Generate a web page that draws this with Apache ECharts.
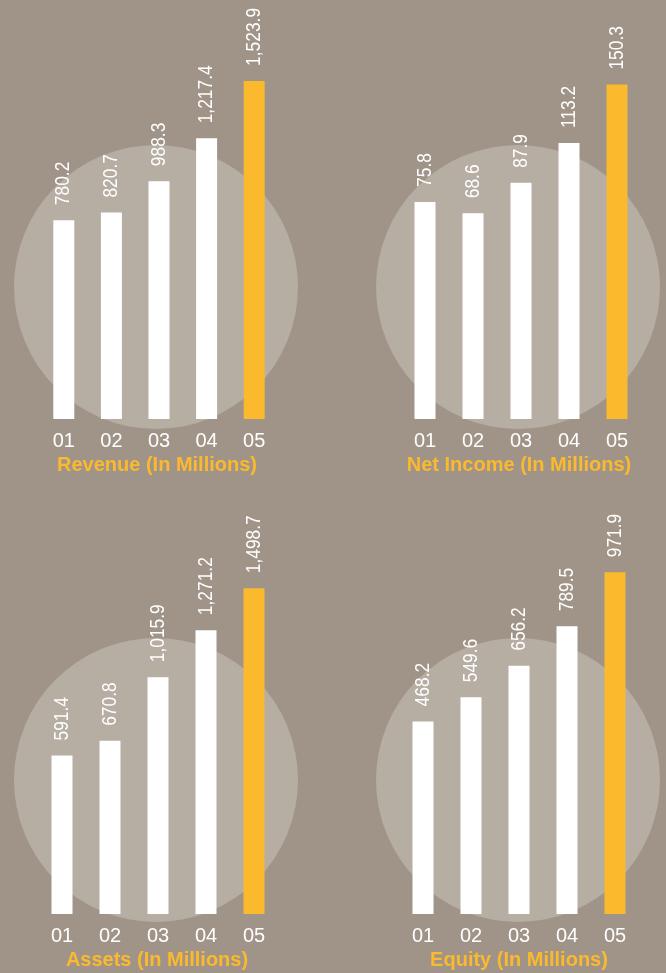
<!DOCTYPE html>
<html><head><meta charset="utf-8">
<script src="https://cdn.jsdelivr.net/npm/echarts@6/dist/echarts.min.js"></script>
<style>html,body{margin:0;padding:0;background:#a09488;}#c{width:666px;height:973px;}</style>
</head><body><div id="c"></div>
<script>
const categories = ['01', '02', '03', '04', '05'];
const revenue = [780.2, 820.7, 988.3, 1217.4, 1523.9];
const netIncome = [75.8, 68.6, 87.9, 113.2, 150.3];
const assets = [591.4, 670.8, 1015.9, 1271.2, 1498.7];
const equity = [468.2, 549.6, 656.2, 789.5, 971.9];
const titles = ['Revenue (In Millions)', 'Net Income (In Millions)', 'Assets (In Millions)', 'Equity (In Millions)'];
const seriesData = [revenue, netIncome, assets, equity];
const axisMin = [-282, -62, -268.6, -182.5];
const axisMax = [1742.6, 178.6, 1787.8, 1097.9];

const BG = '#a09488', CIRCLE = '#b6ada3', YELLOW = '#fbb92e', WHITE = '#ffffff';
const FONT = "'Liberation Sans', Arial, sans-serif";

const grids = [
  {left: 40, top: 40, width: 238, height: 379},
  {left: 401, top: 40, width: 240, height: 379},
  {left: 38, top: 535, width: 240, height: 379},
  {left: 399, top: 535, width: 240, height: 379}
];
const circles = [[156, 287], [518, 287], [156, 780], [518, 780]];
const titlePos = [[157, 455], [519, 455], [157, 950], [519, 950]];

function fmt(v) {
  return v.toLocaleString('en-US', {minimumFractionDigits: 1, maximumFractionDigits: 1});
}

function makeRender(i) {
  return function (params, api) {
    const x = api.value(0), v = api.value(1);
    const top = api.coord([x, v]);
    const base = api.coord([x, axisMin[i]]);
    const w = 21;
    const last = params.dataIndex === seriesData[i].length - 1;
    return {
      type: 'group',
      children: [
        {type: 'rect', shape: {x: top[0] - w / 2, y: top[1], width: w, height: base[1] - top[1]},
         style: {fill: last ? YELLOW : WHITE}},
        {type: 'text', x: top[0], y: top[1] - 15, rotation: Math.PI / 2, scaleX: 0.87,
         style: {text: fmt(v), fill: WHITE, fontSize: 20, fontFamily: FONT,
                 align: 'left', verticalAlign: 'middle'}}
      ]
    };
  };
}

const option = {
  backgroundColor: BG,
  animation: false,
  graphic: circles.map(c => ({
    type: 'circle', z: -10, silent: true,
    shape: {cx: c[0], cy: c[1], r: 142},
    style: {fill: CIRCLE}
  })),
  title: titles.map((t, i) => ({
    text: t, left: titlePos[i][0], top: titlePos[i][1], textAlign: 'center', padding: 0,
    textStyle: {color: YELLOW, fontSize: 20, fontWeight: 'bold', fontFamily: FONT}
  })),
  grid: grids,
  xAxis: grids.map((g, i) => ({
    type: 'category', gridIndex: i, data: categories,
    axisLine: {show: false, onZero: false}, axisTick: {show: false},
    axisLabel: {color: WHITE, fontSize: 20, fontFamily: FONT, margin: 12}
  })),
  yAxis: grids.map((g, i) => ({
    type: 'value', gridIndex: i, min: axisMin[i], max: axisMax[i],
    show: false, splitLine: {show: false}
  })),
  series: seriesData.map((d, i) => ({
    type: 'custom', xAxisIndex: i, yAxisIndex: i,
    data: d.map((v, j) => [j, v]),
    encode: {x: 0, y: 1},
    renderItem: makeRender(i)
  }))
};
echarts.init(document.getElementById('c')).setOption(option);
</script></body></html>
